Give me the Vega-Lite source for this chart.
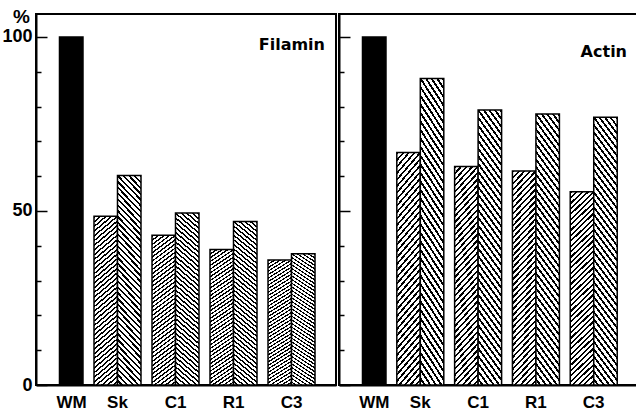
{
  "$schema": "https://vega.github.io/schema/vega-lite/v6.json",
  "autosize": {"type": "pad"},
  "padding": {"left": 0, "top": 6, "right": 0, "bottom": 0},
  "background": "white",
  "spacing": 0,
  "config": {
    "view": {"stroke": "black", "strokeWidth": 2},
    "concat": {"spacing": 0}
  },
  "datasets": {
    "bars": [
      {"protein": "Filamin", "sample": "WM", "run": "total", "value": 100},
      {"protein": "Filamin", "sample": "Sk", "run": "A", "value": 48.5},
      {"protein": "Filamin", "sample": "Sk", "run": "B", "value": 60.2},
      {"protein": "Filamin", "sample": "C1", "run": "A", "value": 43},
      {"protein": "Filamin", "sample": "C1", "run": "B", "value": 49.4},
      {"protein": "Filamin", "sample": "R1", "run": "A", "value": 38.9},
      {"protein": "Filamin", "sample": "R1", "run": "B", "value": 47},
      {"protein": "Filamin", "sample": "C3", "run": "A", "value": 35.9},
      {"protein": "Filamin", "sample": "C3", "run": "B", "value": 37.7},
      {"protein": "Actin", "sample": "WM", "run": "total", "value": 100},
      {"protein": "Actin", "sample": "Sk", "run": "A", "value": 66.8},
      {"protein": "Actin", "sample": "Sk", "run": "B", "value": 88.1},
      {"protein": "Actin", "sample": "C1", "run": "A", "value": 62.8},
      {"protein": "Actin", "sample": "C1", "run": "B", "value": 79},
      {"protein": "Actin", "sample": "R1", "run": "A", "value": 61.5},
      {"protein": "Actin", "sample": "R1", "run": "B", "value": 77.9},
      {"protein": "Actin", "sample": "C3", "run": "A", "value": 55.5},
      {"protein": "Actin", "sample": "C3", "run": "B", "value": 76.9}
    ]
  },
  "data": {"name": "bars"},
  "hconcat": [
    {
      "width": 300,
      "height": 371,
      "title": {"text": "Filamin", "anchor": "end", "frame": "group", "orient": "top", "offset": -59, "dx": -11, "baseline": "alphabetic", "font": "DejaVu Sans", "fontSize": 16, "fontWeight": "bold", "color": "black"},
      "transform": [{"filter": "datum.protein === 'Filamin'"}],
      "encoding": {
        "x": {
          "field": "sample", "type": "nominal", "sort": null,
          "scale": {"domain": ["WM", "Sk", "C1", "R1", "C3"], "paddingInner": 0.19, "paddingOuter": 0.181, "align": 0},
          "axis": {"orient": "bottom", "title": null, "ticks": false, "domain": true, "domainColor": "black", "domainWidth": 2, "labelAngle": 0, "labelFont": "Liberation Sans", "labelFontSize": 17, "labelFontWeight": "bold", "labelColor": "black", "labelPadding": 9, "labelOffset": {"condition": {"test": "datum.value === 'WM'", "value": 12}, "value": 0}}
        },
        "y": {
          "field": "value", "type": "quantitative",
          "scale": {"domain": [0, 106.6], "nice": false, "zero": true},
          "axis": {"orient": "left", "grid": false, "values": [0, 10, 20, 30, 40, 50, 60, 70, 80, 90, 100], "labelExpr": "datum.value % 50 === 0 ? datum.label : ''", "tickSize": {"condition": {"test": "datum.value % 50 === 0", "value": -11}, "value": -5}, "tickColor": "black", "tickWidth": 1.5, "domainColor": "black", "domainWidth": 2, "labelFont": "Liberation Sans", "labelFontSize": 18, "labelFontWeight": "bold", "labelColor": "black", "labelPadding": 15, "title": "%", "titleAngle": 0, "titleX": -15, "titleY": 8, "titleAlign": "center", "titleBaseline": "alphabetic", "titleFont": "Liberation Sans", "titleFontSize": 19, "titleFontWeight": "bold", "titleColor": "black"}
        }
      },
      "layer": [
        {
          "transform": [{"filter": "datum.run === 'total'"}],
          "mark": {"type": "bar", "fill": "black", "stroke": "black", "strokeWidth": 1.5},
          "encoding": {"xOffset": {"datum": "B", "type": "nominal", "scale": {"domain": ["A", "B"], "paddingInner": 0, "paddingOuter": 0}}}
        },
        {
          "transform": [{"filter": "datum.run === 'A'"}],
          "mark": {"type": "bar", "stroke": "black", "strokeWidth": 1.5, "fill": {"gradient": "linear", "x1": 0, "y1": 0, "x2": 0.1297, "y2": 1.1024, "stops": [{"offset":0,"color":"black"},{"offset":0.01,"color":"black"},{"offset":0.01,"color":"white"},{"offset":0.025,"color":"white"},{"offset":0.025,"color":"black"},{"offset":0.035,"color":"black"},{"offset":0.035,"color":"white"},{"offset":0.05,"color":"white"},{"offset":0.05,"color":"black"},{"offset":0.06,"color":"black"},{"offset":0.06,"color":"white"},{"offset":0.075,"color":"white"},{"offset":0.075,"color":"black"},{"offset":0.085,"color":"black"},{"offset":0.085,"color":"white"},{"offset":0.1,"color":"white"},{"offset":0.1,"color":"black"},{"offset":0.11,"color":"black"},{"offset":0.11,"color":"white"},{"offset":0.125,"color":"white"},{"offset":0.125,"color":"black"},{"offset":0.135,"color":"black"},{"offset":0.135,"color":"white"},{"offset":0.15,"color":"white"},{"offset":0.15,"color":"black"},{"offset":0.16,"color":"black"},{"offset":0.16,"color":"white"},{"offset":0.175,"color":"white"},{"offset":0.175,"color":"black"},{"offset":0.185,"color":"black"},{"offset":0.185,"color":"white"},{"offset":0.2,"color":"white"},{"offset":0.2,"color":"black"},{"offset":0.21,"color":"black"},{"offset":0.21,"color":"white"},{"offset":0.225,"color":"white"},{"offset":0.225,"color":"black"},{"offset":0.235,"color":"black"},{"offset":0.235,"color":"white"},{"offset":0.25,"color":"white"},{"offset":0.25,"color":"black"},{"offset":0.26,"color":"black"},{"offset":0.26,"color":"white"},{"offset":0.275,"color":"white"},{"offset":0.275,"color":"black"},{"offset":0.285,"color":"black"},{"offset":0.285,"color":"white"},{"offset":0.3,"color":"white"},{"offset":0.3,"color":"black"},{"offset":0.31,"color":"black"},{"offset":0.31,"color":"white"},{"offset":0.325,"color":"white"},{"offset":0.325,"color":"black"},{"offset":0.335,"color":"black"},{"offset":0.335,"color":"white"},{"offset":0.35,"color":"white"},{"offset":0.35,"color":"black"},{"offset":0.36,"color":"black"},{"offset":0.36,"color":"white"},{"offset":0.375,"color":"white"},{"offset":0.375,"color":"black"},{"offset":0.385,"color":"black"},{"offset":0.385,"color":"white"},{"offset":0.4,"color":"white"},{"offset":0.4,"color":"black"},{"offset":0.41,"color":"black"},{"offset":0.41,"color":"white"},{"offset":0.425,"color":"white"},{"offset":0.425,"color":"black"},{"offset":0.435,"color":"black"},{"offset":0.435,"color":"white"},{"offset":0.45,"color":"white"},{"offset":0.45,"color":"black"},{"offset":0.46,"color":"black"},{"offset":0.46,"color":"white"},{"offset":0.475,"color":"white"},{"offset":0.475,"color":"black"},{"offset":0.485,"color":"black"},{"offset":0.485,"color":"white"},{"offset":0.5,"color":"white"},{"offset":0.5,"color":"black"},{"offset":0.51,"color":"black"},{"offset":0.51,"color":"white"},{"offset":0.525,"color":"white"},{"offset":0.525,"color":"black"},{"offset":0.535,"color":"black"},{"offset":0.535,"color":"white"},{"offset":0.55,"color":"white"},{"offset":0.55,"color":"black"},{"offset":0.56,"color":"black"},{"offset":0.56,"color":"white"},{"offset":0.575,"color":"white"},{"offset":0.575,"color":"black"},{"offset":0.585,"color":"black"},{"offset":0.585,"color":"white"},{"offset":0.6,"color":"white"},{"offset":0.6,"color":"black"},{"offset":0.61,"color":"black"},{"offset":0.61,"color":"white"},{"offset":0.625,"color":"white"},{"offset":0.625,"color":"black"},{"offset":0.635,"color":"black"},{"offset":0.635,"color":"white"},{"offset":0.65,"color":"white"},{"offset":0.65,"color":"black"},{"offset":0.66,"color":"black"},{"offset":0.66,"color":"white"},{"offset":0.675,"color":"white"},{"offset":0.675,"color":"black"},{"offset":0.685,"color":"black"},{"offset":0.685,"color":"white"},{"offset":0.7,"color":"white"},{"offset":0.7,"color":"black"},{"offset":0.71,"color":"black"},{"offset":0.71,"color":"white"},{"offset":0.725,"color":"white"},{"offset":0.725,"color":"black"},{"offset":0.735,"color":"black"},{"offset":0.735,"color":"white"},{"offset":0.75,"color":"white"},{"offset":0.75,"color":"black"},{"offset":0.76,"color":"black"},{"offset":0.76,"color":"white"},{"offset":0.775,"color":"white"},{"offset":0.775,"color":"black"},{"offset":0.785,"color":"black"},{"offset":0.785,"color":"white"},{"offset":0.8,"color":"white"},{"offset":0.8,"color":"black"},{"offset":0.81,"color":"black"},{"offset":0.81,"color":"white"},{"offset":0.825,"color":"white"},{"offset":0.825,"color":"black"},{"offset":0.835,"color":"black"},{"offset":0.835,"color":"white"},{"offset":0.85,"color":"white"},{"offset":0.85,"color":"black"},{"offset":0.86,"color":"black"},{"offset":0.86,"color":"white"},{"offset":0.875,"color":"white"},{"offset":0.875,"color":"black"},{"offset":0.885,"color":"black"},{"offset":0.885,"color":"white"},{"offset":0.9,"color":"white"},{"offset":0.9,"color":"black"},{"offset":0.91,"color":"black"},{"offset":0.91,"color":"white"},{"offset":0.925,"color":"white"},{"offset":0.925,"color":"black"},{"offset":0.935,"color":"black"},{"offset":0.935,"color":"white"},{"offset":0.95,"color":"white"},{"offset":0.95,"color":"black"},{"offset":0.96,"color":"black"},{"offset":0.96,"color":"white"},{"offset":0.975,"color":"white"},{"offset":0.975,"color":"black"},{"offset":0.985,"color":"black"},{"offset":0.985,"color":"white"},{"offset":1,"color":"white"}]}},
          "encoding": {"xOffset": {"field": "run", "type": "nominal", "scale": {"domain": ["A", "B"], "paddingInner": 0, "paddingOuter": 0}}}
        },
        {
          "transform": [{"filter": "datum.run === 'B'"}],
          "mark": {"type": "bar", "stroke": "black", "strokeWidth": 1.5, "fill": {"gradient": "linear", "x1": 1, "y1": 0, "x2": 0.8703, "y2": 1.1024, "stops": [{"offset":0,"color":"black"},{"offset":0.01,"color":"black"},{"offset":0.01,"color":"white"},{"offset":0.025,"color":"white"},{"offset":0.025,"color":"black"},{"offset":0.035,"color":"black"},{"offset":0.035,"color":"white"},{"offset":0.05,"color":"white"},{"offset":0.05,"color":"black"},{"offset":0.06,"color":"black"},{"offset":0.06,"color":"white"},{"offset":0.075,"color":"white"},{"offset":0.075,"color":"black"},{"offset":0.085,"color":"black"},{"offset":0.085,"color":"white"},{"offset":0.1,"color":"white"},{"offset":0.1,"color":"black"},{"offset":0.11,"color":"black"},{"offset":0.11,"color":"white"},{"offset":0.125,"color":"white"},{"offset":0.125,"color":"black"},{"offset":0.135,"color":"black"},{"offset":0.135,"color":"white"},{"offset":0.15,"color":"white"},{"offset":0.15,"color":"black"},{"offset":0.16,"color":"black"},{"offset":0.16,"color":"white"},{"offset":0.175,"color":"white"},{"offset":0.175,"color":"black"},{"offset":0.185,"color":"black"},{"offset":0.185,"color":"white"},{"offset":0.2,"color":"white"},{"offset":0.2,"color":"black"},{"offset":0.21,"color":"black"},{"offset":0.21,"color":"white"},{"offset":0.225,"color":"white"},{"offset":0.225,"color":"black"},{"offset":0.235,"color":"black"},{"offset":0.235,"color":"white"},{"offset":0.25,"color":"white"},{"offset":0.25,"color":"black"},{"offset":0.26,"color":"black"},{"offset":0.26,"color":"white"},{"offset":0.275,"color":"white"},{"offset":0.275,"color":"black"},{"offset":0.285,"color":"black"},{"offset":0.285,"color":"white"},{"offset":0.3,"color":"white"},{"offset":0.3,"color":"black"},{"offset":0.31,"color":"black"},{"offset":0.31,"color":"white"},{"offset":0.325,"color":"white"},{"offset":0.325,"color":"black"},{"offset":0.335,"color":"black"},{"offset":0.335,"color":"white"},{"offset":0.35,"color":"white"},{"offset":0.35,"color":"black"},{"offset":0.36,"color":"black"},{"offset":0.36,"color":"white"},{"offset":0.375,"color":"white"},{"offset":0.375,"color":"black"},{"offset":0.385,"color":"black"},{"offset":0.385,"color":"white"},{"offset":0.4,"color":"white"},{"offset":0.4,"color":"black"},{"offset":0.41,"color":"black"},{"offset":0.41,"color":"white"},{"offset":0.425,"color":"white"},{"offset":0.425,"color":"black"},{"offset":0.435,"color":"black"},{"offset":0.435,"color":"white"},{"offset":0.45,"color":"white"},{"offset":0.45,"color":"black"},{"offset":0.46,"color":"black"},{"offset":0.46,"color":"white"},{"offset":0.475,"color":"white"},{"offset":0.475,"color":"black"},{"offset":0.485,"color":"black"},{"offset":0.485,"color":"white"},{"offset":0.5,"color":"white"},{"offset":0.5,"color":"black"},{"offset":0.51,"color":"black"},{"offset":0.51,"color":"white"},{"offset":0.525,"color":"white"},{"offset":0.525,"color":"black"},{"offset":0.535,"color":"black"},{"offset":0.535,"color":"white"},{"offset":0.55,"color":"white"},{"offset":0.55,"color":"black"},{"offset":0.56,"color":"black"},{"offset":0.56,"color":"white"},{"offset":0.575,"color":"white"},{"offset":0.575,"color":"black"},{"offset":0.585,"color":"black"},{"offset":0.585,"color":"white"},{"offset":0.6,"color":"white"},{"offset":0.6,"color":"black"},{"offset":0.61,"color":"black"},{"offset":0.61,"color":"white"},{"offset":0.625,"color":"white"},{"offset":0.625,"color":"black"},{"offset":0.635,"color":"black"},{"offset":0.635,"color":"white"},{"offset":0.65,"color":"white"},{"offset":0.65,"color":"black"},{"offset":0.66,"color":"black"},{"offset":0.66,"color":"white"},{"offset":0.675,"color":"white"},{"offset":0.675,"color":"black"},{"offset":0.685,"color":"black"},{"offset":0.685,"color":"white"},{"offset":0.7,"color":"white"},{"offset":0.7,"color":"black"},{"offset":0.71,"color":"black"},{"offset":0.71,"color":"white"},{"offset":0.725,"color":"white"},{"offset":0.725,"color":"black"},{"offset":0.735,"color":"black"},{"offset":0.735,"color":"white"},{"offset":0.75,"color":"white"},{"offset":0.75,"color":"black"},{"offset":0.76,"color":"black"},{"offset":0.76,"color":"white"},{"offset":0.775,"color":"white"},{"offset":0.775,"color":"black"},{"offset":0.785,"color":"black"},{"offset":0.785,"color":"white"},{"offset":0.8,"color":"white"},{"offset":0.8,"color":"black"},{"offset":0.81,"color":"black"},{"offset":0.81,"color":"white"},{"offset":0.825,"color":"white"},{"offset":0.825,"color":"black"},{"offset":0.835,"color":"black"},{"offset":0.835,"color":"white"},{"offset":0.85,"color":"white"},{"offset":0.85,"color":"black"},{"offset":0.86,"color":"black"},{"offset":0.86,"color":"white"},{"offset":0.875,"color":"white"},{"offset":0.875,"color":"black"},{"offset":0.885,"color":"black"},{"offset":0.885,"color":"white"},{"offset":0.9,"color":"white"},{"offset":0.9,"color":"black"},{"offset":0.91,"color":"black"},{"offset":0.91,"color":"white"},{"offset":0.925,"color":"white"},{"offset":0.925,"color":"black"},{"offset":0.935,"color":"black"},{"offset":0.935,"color":"white"},{"offset":0.95,"color":"white"},{"offset":0.95,"color":"black"},{"offset":0.96,"color":"black"},{"offset":0.96,"color":"white"},{"offset":0.975,"color":"white"},{"offset":0.975,"color":"black"},{"offset":0.985,"color":"black"},{"offset":0.985,"color":"white"},{"offset":1,"color":"white"}]}},
          "encoding": {"xOffset": {"field": "run", "type": "nominal", "scale": {"domain": ["A", "B"], "paddingInner": 0, "paddingOuter": 0}}}
        }
      ]
    },
    {
      "width": 299,
      "height": 371,
      "title": {"text": "Actin", "anchor": "end", "frame": "group", "orient": "top", "offset": -59, "dx": -11, "baseline": "alphabetic", "font": "DejaVu Sans", "fontSize": 16, "fontWeight": "bold", "color": "black"},
      "transform": [{"filter": "datum.protein === 'Actin'"}],
      "encoding": {
        "x": {
          "field": "sample", "type": "nominal", "sort": null,
          "scale": {"domain": ["WM", "Sk", "C1", "R1", "C3"], "paddingInner": 0.19, "paddingOuter": 0.181, "align": 0},
          "axis": {"orient": "bottom", "title": null, "ticks": false, "domain": true, "domainColor": "black", "domainWidth": 2, "labelAngle": 0, "labelFont": "Liberation Sans", "labelFontSize": 17, "labelFontWeight": "bold", "labelColor": "black", "labelPadding": 9, "labelOffset": {"condition": {"test": "datum.value === 'WM'", "value": 12}, "value": 0}}
        },
        "y": {
          "field": "value", "type": "quantitative",
          "scale": {"domain": [0, 106.6], "nice": false, "zero": true},
          "axis": {"orient": "left", "grid": false, "values": [0, 10, 20, 30, 40, 50, 60, 70, 80, 90, 100], "labels": false, "title": null, "tickSize": {"condition": {"test": "datum.value % 50 === 0", "value": -11}, "value": -5}, "tickColor": "black", "tickWidth": 1.5, "domainColor": "black", "domainWidth": 2}
        }
      },
      "layer": [
        {
          "transform": [{"filter": "datum.run === 'total'"}],
          "mark": {"type": "bar", "fill": "black", "stroke": "black", "strokeWidth": 1.5},
          "encoding": {"xOffset": {"datum": "B", "type": "nominal", "scale": {"domain": ["A", "B"], "paddingInner": 0, "paddingOuter": 0}}}
        },
        {
          "transform": [{"filter": "datum.run === 'A'"}],
          "mark": {"type": "bar", "stroke": "black", "strokeWidth": 1.5, "fill": {"gradient": "linear", "x1": 0, "y1": 0, "x2": 0.1297, "y2": 1.1024, "stops": [{"offset":0,"color":"black"},{"offset":0.01,"color":"black"},{"offset":0.01,"color":"white"},{"offset":0.025,"color":"white"},{"offset":0.025,"color":"black"},{"offset":0.035,"color":"black"},{"offset":0.035,"color":"white"},{"offset":0.05,"color":"white"},{"offset":0.05,"color":"black"},{"offset":0.06,"color":"black"},{"offset":0.06,"color":"white"},{"offset":0.075,"color":"white"},{"offset":0.075,"color":"black"},{"offset":0.085,"color":"black"},{"offset":0.085,"color":"white"},{"offset":0.1,"color":"white"},{"offset":0.1,"color":"black"},{"offset":0.11,"color":"black"},{"offset":0.11,"color":"white"},{"offset":0.125,"color":"white"},{"offset":0.125,"color":"black"},{"offset":0.135,"color":"black"},{"offset":0.135,"color":"white"},{"offset":0.15,"color":"white"},{"offset":0.15,"color":"black"},{"offset":0.16,"color":"black"},{"offset":0.16,"color":"white"},{"offset":0.175,"color":"white"},{"offset":0.175,"color":"black"},{"offset":0.185,"color":"black"},{"offset":0.185,"color":"white"},{"offset":0.2,"color":"white"},{"offset":0.2,"color":"black"},{"offset":0.21,"color":"black"},{"offset":0.21,"color":"white"},{"offset":0.225,"color":"white"},{"offset":0.225,"color":"black"},{"offset":0.235,"color":"black"},{"offset":0.235,"color":"white"},{"offset":0.25,"color":"white"},{"offset":0.25,"color":"black"},{"offset":0.26,"color":"black"},{"offset":0.26,"color":"white"},{"offset":0.275,"color":"white"},{"offset":0.275,"color":"black"},{"offset":0.285,"color":"black"},{"offset":0.285,"color":"white"},{"offset":0.3,"color":"white"},{"offset":0.3,"color":"black"},{"offset":0.31,"color":"black"},{"offset":0.31,"color":"white"},{"offset":0.325,"color":"white"},{"offset":0.325,"color":"black"},{"offset":0.335,"color":"black"},{"offset":0.335,"color":"white"},{"offset":0.35,"color":"white"},{"offset":0.35,"color":"black"},{"offset":0.36,"color":"black"},{"offset":0.36,"color":"white"},{"offset":0.375,"color":"white"},{"offset":0.375,"color":"black"},{"offset":0.385,"color":"black"},{"offset":0.385,"color":"white"},{"offset":0.4,"color":"white"},{"offset":0.4,"color":"black"},{"offset":0.41,"color":"black"},{"offset":0.41,"color":"white"},{"offset":0.425,"color":"white"},{"offset":0.425,"color":"black"},{"offset":0.435,"color":"black"},{"offset":0.435,"color":"white"},{"offset":0.45,"color":"white"},{"offset":0.45,"color":"black"},{"offset":0.46,"color":"black"},{"offset":0.46,"color":"white"},{"offset":0.475,"color":"white"},{"offset":0.475,"color":"black"},{"offset":0.485,"color":"black"},{"offset":0.485,"color":"white"},{"offset":0.5,"color":"white"},{"offset":0.5,"color":"black"},{"offset":0.51,"color":"black"},{"offset":0.51,"color":"white"},{"offset":0.525,"color":"white"},{"offset":0.525,"color":"black"},{"offset":0.535,"color":"black"},{"offset":0.535,"color":"white"},{"offset":0.55,"color":"white"},{"offset":0.55,"color":"black"},{"offset":0.56,"color":"black"},{"offset":0.56,"color":"white"},{"offset":0.575,"color":"white"},{"offset":0.575,"color":"black"},{"offset":0.585,"color":"black"},{"offset":0.585,"color":"white"},{"offset":0.6,"color":"white"},{"offset":0.6,"color":"black"},{"offset":0.61,"color":"black"},{"offset":0.61,"color":"white"},{"offset":0.625,"color":"white"},{"offset":0.625,"color":"black"},{"offset":0.635,"color":"black"},{"offset":0.635,"color":"white"},{"offset":0.65,"color":"white"},{"offset":0.65,"color":"black"},{"offset":0.66,"color":"black"},{"offset":0.66,"color":"white"},{"offset":0.675,"color":"white"},{"offset":0.675,"color":"black"},{"offset":0.685,"color":"black"},{"offset":0.685,"color":"white"},{"offset":0.7,"color":"white"},{"offset":0.7,"color":"black"},{"offset":0.71,"color":"black"},{"offset":0.71,"color":"white"},{"offset":0.725,"color":"white"},{"offset":0.725,"color":"black"},{"offset":0.735,"color":"black"},{"offset":0.735,"color":"white"},{"offset":0.75,"color":"white"},{"offset":0.75,"color":"black"},{"offset":0.76,"color":"black"},{"offset":0.76,"color":"white"},{"offset":0.775,"color":"white"},{"offset":0.775,"color":"black"},{"offset":0.785,"color":"black"},{"offset":0.785,"color":"white"},{"offset":0.8,"color":"white"},{"offset":0.8,"color":"black"},{"offset":0.81,"color":"black"},{"offset":0.81,"color":"white"},{"offset":0.825,"color":"white"},{"offset":0.825,"color":"black"},{"offset":0.835,"color":"black"},{"offset":0.835,"color":"white"},{"offset":0.85,"color":"white"},{"offset":0.85,"color":"black"},{"offset":0.86,"color":"black"},{"offset":0.86,"color":"white"},{"offset":0.875,"color":"white"},{"offset":0.875,"color":"black"},{"offset":0.885,"color":"black"},{"offset":0.885,"color":"white"},{"offset":0.9,"color":"white"},{"offset":0.9,"color":"black"},{"offset":0.91,"color":"black"},{"offset":0.91,"color":"white"},{"offset":0.925,"color":"white"},{"offset":0.925,"color":"black"},{"offset":0.935,"color":"black"},{"offset":0.935,"color":"white"},{"offset":0.95,"color":"white"},{"offset":0.95,"color":"black"},{"offset":0.96,"color":"black"},{"offset":0.96,"color":"white"},{"offset":0.975,"color":"white"},{"offset":0.975,"color":"black"},{"offset":0.985,"color":"black"},{"offset":0.985,"color":"white"},{"offset":1,"color":"white"}]}},
          "encoding": {"xOffset": {"field": "run", "type": "nominal", "scale": {"domain": ["A", "B"], "paddingInner": 0, "paddingOuter": 0}}}
        },
        {
          "transform": [{"filter": "datum.run === 'B'"}],
          "mark": {"type": "bar", "stroke": "black", "strokeWidth": 1.5, "fill": {"gradient": "linear", "x1": 1, "y1": 0, "x2": 0.8703, "y2": 1.1024, "stops": [{"offset":0,"color":"black"},{"offset":0.01,"color":"black"},{"offset":0.01,"color":"white"},{"offset":0.025,"color":"white"},{"offset":0.025,"color":"black"},{"offset":0.035,"color":"black"},{"offset":0.035,"color":"white"},{"offset":0.05,"color":"white"},{"offset":0.05,"color":"black"},{"offset":0.06,"color":"black"},{"offset":0.06,"color":"white"},{"offset":0.075,"color":"white"},{"offset":0.075,"color":"black"},{"offset":0.085,"color":"black"},{"offset":0.085,"color":"white"},{"offset":0.1,"color":"white"},{"offset":0.1,"color":"black"},{"offset":0.11,"color":"black"},{"offset":0.11,"color":"white"},{"offset":0.125,"color":"white"},{"offset":0.125,"color":"black"},{"offset":0.135,"color":"black"},{"offset":0.135,"color":"white"},{"offset":0.15,"color":"white"},{"offset":0.15,"color":"black"},{"offset":0.16,"color":"black"},{"offset":0.16,"color":"white"},{"offset":0.175,"color":"white"},{"offset":0.175,"color":"black"},{"offset":0.185,"color":"black"},{"offset":0.185,"color":"white"},{"offset":0.2,"color":"white"},{"offset":0.2,"color":"black"},{"offset":0.21,"color":"black"},{"offset":0.21,"color":"white"},{"offset":0.225,"color":"white"},{"offset":0.225,"color":"black"},{"offset":0.235,"color":"black"},{"offset":0.235,"color":"white"},{"offset":0.25,"color":"white"},{"offset":0.25,"color":"black"},{"offset":0.26,"color":"black"},{"offset":0.26,"color":"white"},{"offset":0.275,"color":"white"},{"offset":0.275,"color":"black"},{"offset":0.285,"color":"black"},{"offset":0.285,"color":"white"},{"offset":0.3,"color":"white"},{"offset":0.3,"color":"black"},{"offset":0.31,"color":"black"},{"offset":0.31,"color":"white"},{"offset":0.325,"color":"white"},{"offset":0.325,"color":"black"},{"offset":0.335,"color":"black"},{"offset":0.335,"color":"white"},{"offset":0.35,"color":"white"},{"offset":0.35,"color":"black"},{"offset":0.36,"color":"black"},{"offset":0.36,"color":"white"},{"offset":0.375,"color":"white"},{"offset":0.375,"color":"black"},{"offset":0.385,"color":"black"},{"offset":0.385,"color":"white"},{"offset":0.4,"color":"white"},{"offset":0.4,"color":"black"},{"offset":0.41,"color":"black"},{"offset":0.41,"color":"white"},{"offset":0.425,"color":"white"},{"offset":0.425,"color":"black"},{"offset":0.435,"color":"black"},{"offset":0.435,"color":"white"},{"offset":0.45,"color":"white"},{"offset":0.45,"color":"black"},{"offset":0.46,"color":"black"},{"offset":0.46,"color":"white"},{"offset":0.475,"color":"white"},{"offset":0.475,"color":"black"},{"offset":0.485,"color":"black"},{"offset":0.485,"color":"white"},{"offset":0.5,"color":"white"},{"offset":0.5,"color":"black"},{"offset":0.51,"color":"black"},{"offset":0.51,"color":"white"},{"offset":0.525,"color":"white"},{"offset":0.525,"color":"black"},{"offset":0.535,"color":"black"},{"offset":0.535,"color":"white"},{"offset":0.55,"color":"white"},{"offset":0.55,"color":"black"},{"offset":0.56,"color":"black"},{"offset":0.56,"color":"white"},{"offset":0.575,"color":"white"},{"offset":0.575,"color":"black"},{"offset":0.585,"color":"black"},{"offset":0.585,"color":"white"},{"offset":0.6,"color":"white"},{"offset":0.6,"color":"black"},{"offset":0.61,"color":"black"},{"offset":0.61,"color":"white"},{"offset":0.625,"color":"white"},{"offset":0.625,"color":"black"},{"offset":0.635,"color":"black"},{"offset":0.635,"color":"white"},{"offset":0.65,"color":"white"},{"offset":0.65,"color":"black"},{"offset":0.66,"color":"black"},{"offset":0.66,"color":"white"},{"offset":0.675,"color":"white"},{"offset":0.675,"color":"black"},{"offset":0.685,"color":"black"},{"offset":0.685,"color":"white"},{"offset":0.7,"color":"white"},{"offset":0.7,"color":"black"},{"offset":0.71,"color":"black"},{"offset":0.71,"color":"white"},{"offset":0.725,"color":"white"},{"offset":0.725,"color":"black"},{"offset":0.735,"color":"black"},{"offset":0.735,"color":"white"},{"offset":0.75,"color":"white"},{"offset":0.75,"color":"black"},{"offset":0.76,"color":"black"},{"offset":0.76,"color":"white"},{"offset":0.775,"color":"white"},{"offset":0.775,"color":"black"},{"offset":0.785,"color":"black"},{"offset":0.785,"color":"white"},{"offset":0.8,"color":"white"},{"offset":0.8,"color":"black"},{"offset":0.81,"color":"black"},{"offset":0.81,"color":"white"},{"offset":0.825,"color":"white"},{"offset":0.825,"color":"black"},{"offset":0.835,"color":"black"},{"offset":0.835,"color":"white"},{"offset":0.85,"color":"white"},{"offset":0.85,"color":"black"},{"offset":0.86,"color":"black"},{"offset":0.86,"color":"white"},{"offset":0.875,"color":"white"},{"offset":0.875,"color":"black"},{"offset":0.885,"color":"black"},{"offset":0.885,"color":"white"},{"offset":0.9,"color":"white"},{"offset":0.9,"color":"black"},{"offset":0.91,"color":"black"},{"offset":0.91,"color":"white"},{"offset":0.925,"color":"white"},{"offset":0.925,"color":"black"},{"offset":0.935,"color":"black"},{"offset":0.935,"color":"white"},{"offset":0.95,"color":"white"},{"offset":0.95,"color":"black"},{"offset":0.96,"color":"black"},{"offset":0.96,"color":"white"},{"offset":0.975,"color":"white"},{"offset":0.975,"color":"black"},{"offset":0.985,"color":"black"},{"offset":0.985,"color":"white"},{"offset":1,"color":"white"}]}},
          "encoding": {"xOffset": {"field": "run", "type": "nominal", "scale": {"domain": ["A", "B"], "paddingInner": 0, "paddingOuter": 0}}}
        }
      ]
    }
  ]
}
